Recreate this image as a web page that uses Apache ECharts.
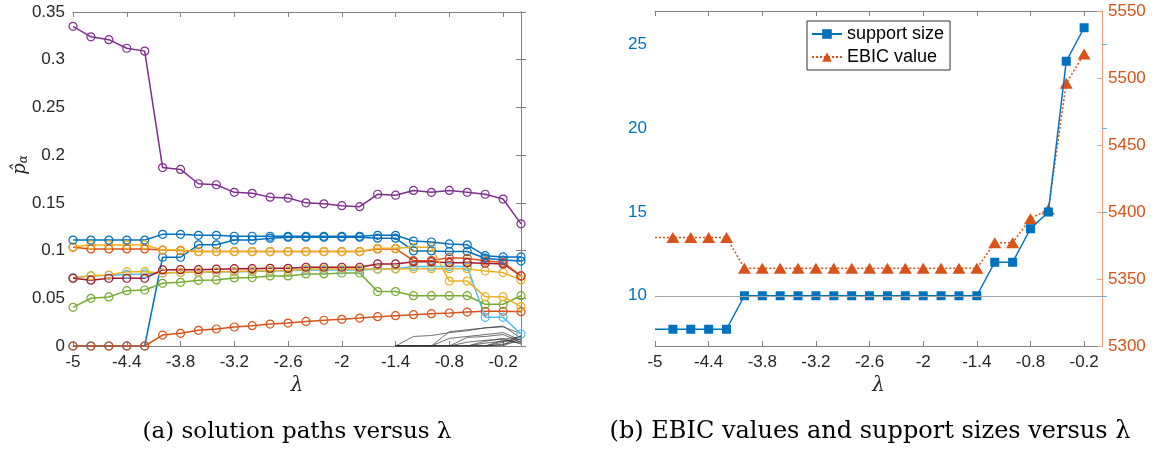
<!DOCTYPE html>
<html>
<head>
<meta charset="utf-8">
<script src="https://cdn.jsdelivr.net/npm/echarts@6/dist/echarts.min.js"></script>
<style>
html,body{margin:0;padding:0;background:#fff;}
#chart{width:1173px;height:455px;}
</style>
</head>
<body>
<div id="chart"></div>
<script>
// ---------- data ----------
const lambdas = [-5,-4.8,-4.6,-4.4,-4.2,-4,-3.8,-3.6,-3.4,-3.2,-3,-2.8,-2.6,-2.4,-2.2,-2,-1.8,-1.6,-1.4,-1.2,-1,-0.8,-0.6,-0.4,-0.2,0];
const xTicks = [-5,-4.4,-3.8,-3.2,-2.6,-2,-1.4,-0.8,-0.2];

// (a) solution paths
const purple = [0.335,0.324,0.321,0.312,0.309,0.187,0.185,0.170,0.169,0.161,0.160,0.156,0.155,0.150,0.149,0.147,0.146,0.159,0.158,0.163,0.161,0.163,0.161,0.159,0.154,0.128];
const blueA = [0.111,0.111,0.111,0.111,0.111,0.117,0.117,0.116,0.116,0.115,0.115,0.115,0.115,0.115,0.115,0.115,0.115,0.116,0.116,0.110,0.109,0.107,0.106,0.0947,0.0933,0.0933];
const blueB = [0,0,0,0,0,0.093,0.093,0.106,0.106,0.111,0.111,0.113,0.114,0.114,0.114,0.114,0.114,0.113,0.113,0.0996,0.0996,0.099,0.099,0.092,0.090,0.089];
const orangeLow = [0,0,0,0,0,0.0115,0.0133,0.0164,0.0178,0.0199,0.0213,0.023,0.024,0.0257,0.027,0.028,0.0293,0.0307,0.0318,0.0328,0.0339,0.0346,0.0356,0.0363,0.0363,0.036];
const orangeHigh = [0.1035,0.1017,0.1017,0.1017,0.1017,0.1005,0.100,0.099,0.099,0.099,0.099,0.099,0.099,0.099,0.099,0.099,0.099,0.1017,0.102,0.0894,0.0896,0.0926,0.0919,0.089,0.0877,0.0734];
const yellowHigh = [0.104,0.1059,0.1059,0.1059,0.1059,0.1006,0.1006,0.099,0.099,0.099,0.099,0.099,0.099,0.099,0.099,0.099,0.099,0.1024,0.1024,0.1035,0.1035,0.068,0.068,0.0517,0.0517,0.0412];
const yellowLow = [0.071,0.0737,0.0744,0.0779,0.0779,0.0765,0.0772,0.0775,0.0778,0.078,0.0785,0.079,0.079,0.0807,0.0807,0.0807,0.0807,0.0807,0.0807,0.081,0.081,0.081,0.081,0.0786,0.0769,0.0692];
const lightBlue = [0.0716,0.0735,0.074,0.075,0.0755,0.0765,0.077,0.0772,0.0775,0.0778,0.078,0.0785,0.0788,0.0797,0.0797,0.0797,0.0797,0.0805,0.081,0.0832,0.0832,0.0832,0.0832,0.030,0.030,0.0126];
const darkRed = [0.071,0.069,0.071,0.071,0.071,0.0797,0.080,0.080,0.0805,0.081,0.081,0.0814,0.0814,0.0825,0.0825,0.0825,0.0825,0.086,0.086,0.0884,0.0884,0.0873,0.0873,0.0867,0.086,0.0734];
const green = [0.0405,0.050,0.0514,0.058,0.0587,0.0657,0.0667,0.0688,0.0692,0.0713,0.0717,0.0734,0.0734,0.0755,0.0755,0.0765,0.0765,0.057,0.057,0.0527,0.0527,0.0527,0.0527,0.0437,0.0437,0.0527];
// small paths near zero (only the tail, from lambda = -1.4 on)
const tailLambdas = [-1.4,-1.2,-1,-0.8,-0.6,-0.4,-0.2,0];
const blackPaths = [
  [0,0.010,0.011,0.014,0.016,0.019,0.020,0.013],
  [0,0,0,0.015,0.017,0.019,0.021,0.008],
  [0,0,0,0.008,0.010,0.012,0.014,0.006],
  [0,0,0,0,0.009,0.010,0.012,0.004],
  [0,0,0,0,0.004,0.006,0.007,0.010],
  [0,0,0,0,0,0.005,0.008,0.002],
  [0,0,0,0,0,0.003,0.005,0.007],
  [0,0,0,0,0,0,0.004,0.010],
  [0,0,0,0,0,0,0.002,0.005],
  [0,0,0,0,0,0,0.006,0.003],
  [0,0,0,0,0,0,0,0.008],
  [0,0,0,0,0,0,0.001,0.011]
];

// (b) EBIC and support size
const lambdasB = [-5,-4.8,-4.6,-4.4,-4.2,-4,-3.8,-3.6,-3.4,-3.2,-3,-2.8,-2.6,-2.4,-2.2,-2,-1.8,-1.6,-1.4,-1.2,-1,-0.8,-0.6,-0.4,-0.2];
const supportSize = [8,8,8,8,8,10,10,10,10,10,10,10,10,10,10,10,10,10,10,12,12,14,15,24,26];
const ebicValue = [5381,5381,5381,5381,5381,5358,5358,5358,5358,5358,5358,5358,5358,5358,5358,5358,5358,5358,5358,5377,5377,5395,5402,5496,5518];
const leftTicksB = [10,15,20,25];

// ---------- styling ----------
const C = {blue:'#0072BD', orange:'#D95319', yellow:'#EDB120', purple:'#7E2F8E', green:'#77AC30', lblue:'#4DBEEE', red:'#A2142F'};
const FONT = '"Liberation Sans", Arial, Helvetica, sans-serif';
const SERIF = '"DejaVu Serif", serif';
const TXT = '#262626';
const AX = '#808080';

function pairs(xs, ys){ return xs.map((x,i)=>[x, ys[i]]); }
function fmt(v){ return String(parseFloat(Number(v).toFixed(3))); }

function pathSeries(name, color, ys){
  return {
    name, type:'line', xAxisIndex:0, yAxisIndex:0,
    data: pairs(lambdas, ys),
    symbol:'circle', symbolSize:8,
    itemStyle:{color:'rgba(0,0,0,0)', borderColor:color, borderWidth:1.2},
    lineStyle:{color:color, width:1.5},
    emphasis:{disabled:true}, z:3
  };
}

const series = [];
blackPaths.forEach((p,i)=>{
  series.push({
    name:'k'+i, type:'line', xAxisIndex:0, yAxisIndex:0,
    data: pairs(tailLambdas, p), symbol:'none',
    lineStyle:{color:'#333', width:0.7}, emphasis:{disabled:true}, z:2
  });
});
series.push(pathSeries('blueB', C.blue, blueB));
series.push(pathSeries('orangeLow', C.orange, orangeLow));
series.push(pathSeries('green', C.green, green));
series.push(pathSeries('lightBlue', C.lblue, lightBlue));
series.push(pathSeries('yellowLow', C.yellow, yellowLow));
series.push(pathSeries('darkRed', C.red, darkRed));
series.push(pathSeries('orangeHigh', C.orange, orangeHigh));
series.push(pathSeries('yellowHigh', C.yellow, yellowHigh));
series.push(pathSeries('blueA', C.blue, blueA));
series.push(pathSeries('purple', C.purple, purple));

// panel b
const ssData = pairs(lambdasB, supportSize).map((d,i)=> i===0 ? {value:d, symbol:'none'} : d);
const ebData = pairs(lambdasB, ebicValue).map((d,i)=> i===0 ? {value:d, symbol:'none'} : d);
series.push({
  name:'support size', type:'line', xAxisIndex:2, yAxisIndex:2,
  data: ssData, symbol:'rect', symbolSize:9,
  itemStyle:{color:C.blue}, lineStyle:{color:C.blue, width:1.5},
  emphasis:{disabled:true}, z:4,
  markLine:{silent:true, symbol:'none', label:{show:false},
    lineStyle:{color:'#a6a6a6', width:1.2, type:'solid'},
    data:[{yAxis:10}]}
});
series.push({
  name:'EBIC value', type:'line', xAxisIndex:2, yAxisIndex:3,
  data: ebData, symbol:'triangle', symbolSize:[13,11],
  itemStyle:{color:C.orange}, lineStyle:{color:C.orange, width:1.5, type:[2,2]},
  emphasis:{disabled:true}, z:3
});

function xAxisB(grid, pos, labels){
  return {
    type:'value', gridIndex:grid, position:pos, min:-5, max:0,
    axisLine:{show:true, onZero:false, lineStyle:{color:AX, width:1}},
    axisTick:{show:true, inside:true, length:5, customValues:xTicks, lineStyle:{color:AX}},
    axisLabel:{show:labels, customValues:xTicks, formatter:fmt, color:TXT, fontSize:17, fontFamily:FONT, margin:8},
    splitLine:{show:false},
    name: labels ? 'λ' : '', nameLocation:'middle', nameGap:25,
    nameTextStyle:{fontFamily:SERIF, fontStyle:'italic', fontSize:20, color:TXT}
  };
}

const option = {
  animation:false,
  backgroundColor:'#fff',
  grid:[
    {left:73, top:12, width:448, height:334},
    {left:655, top:11, width:447, height:335}
  ],
  xAxis:[
    xAxisB(0,'bottom',true),
    xAxisB(0,'top',false),
    xAxisB(1,'bottom',true),
    xAxisB(1,'top',false)
  ],
  yAxis:[
    {type:'value', gridIndex:0, position:'left', min:0, max:0.35, interval:0.05,
     axisLine:{show:true, lineStyle:{color:AX}},
     axisTick:{show:true, inside:true, length:5, lineStyle:{color:AX}},
     axisLabel:{color:TXT, fontSize:17, fontFamily:FONT, formatter:fmt, margin:8},
     splitLine:{show:false}},
    {type:'value', gridIndex:0, position:'right', min:0, max:0.35, interval:0.05,
     axisLine:{show:true, lineStyle:{color:AX}},
     axisTick:{show:true, inside:true, length:5, lineStyle:{color:AX}},
     axisLabel:{show:false}, splitLine:{show:false}},
    {type:'value', gridIndex:1, position:'left', min:7, max:27,
     axisLine:{show:true, lineStyle:{color:'#6aaee0'}},
     axisTick:{show:true, inside:true, length:5, customValues:leftTicksB, lineStyle:{color:'#6aaee0'}},
     axisLabel:{customValues:leftTicksB, color:C.blue, fontSize:17, fontFamily:FONT, margin:8},
     splitLine:{show:false}},
    {type:'value', gridIndex:1, position:'right', min:5300, max:5550, interval:50,
     axisLine:{show:true, lineStyle:{color:'#f0a07c'}},
     axisTick:{show:true, inside:true, length:5, lineStyle:{color:'#f0a07c'}},
     axisLabel:{color:C.orange, fontSize:17, fontFamily:FONT, margin:6, formatter:(v)=>String(v)},
     splitLine:{show:false}}
  ],
  legend:{
    data:['support size','EBIC value'],
    orient:'vertical', left:807, top:21,
    itemWidth:30, itemHeight:12, itemGap:5,
    padding:[4,6,4,4],
    borderColor:'#333', borderWidth:1, backgroundColor:'#fff',
    textStyle:{fontFamily:FONT, fontSize:18, color:'#000'},
    selectedMode:false
  },
  graphic:[
    {type:'text', x:20, y:165, rotation:Math.PI/2,
     style:{text:'{p|p̂}{s|α}', textAlign:'center', textVerticalAlign:'middle',
       rich:{
         p:{fontFamily:SERIF, fontStyle:'italic', fontSize:18, fill:TXT},
         s:{fontFamily:SERIF, fontStyle:'italic', fontSize:12, fill:TXT, padding:[8,0,0,0]}
       }}},
    {type:'text', x:297, y:432, style:{text:'(a) solution paths versus λ', font:'23px '+SERIF, fill:'#000', textAlign:'center', textVerticalAlign:'middle'}},
    {type:'text', x:870, y:432, style:{text:'(b) EBIC values and support sizes versus λ', font:'24px '+SERIF, fill:'#000', textAlign:'center', textVerticalAlign:'middle'}}
  ],
  series
};

const chart = echarts.init(document.getElementById('chart'), null, {renderer:'canvas'});
chart.setOption(option);
</script>
</body>
</html>
